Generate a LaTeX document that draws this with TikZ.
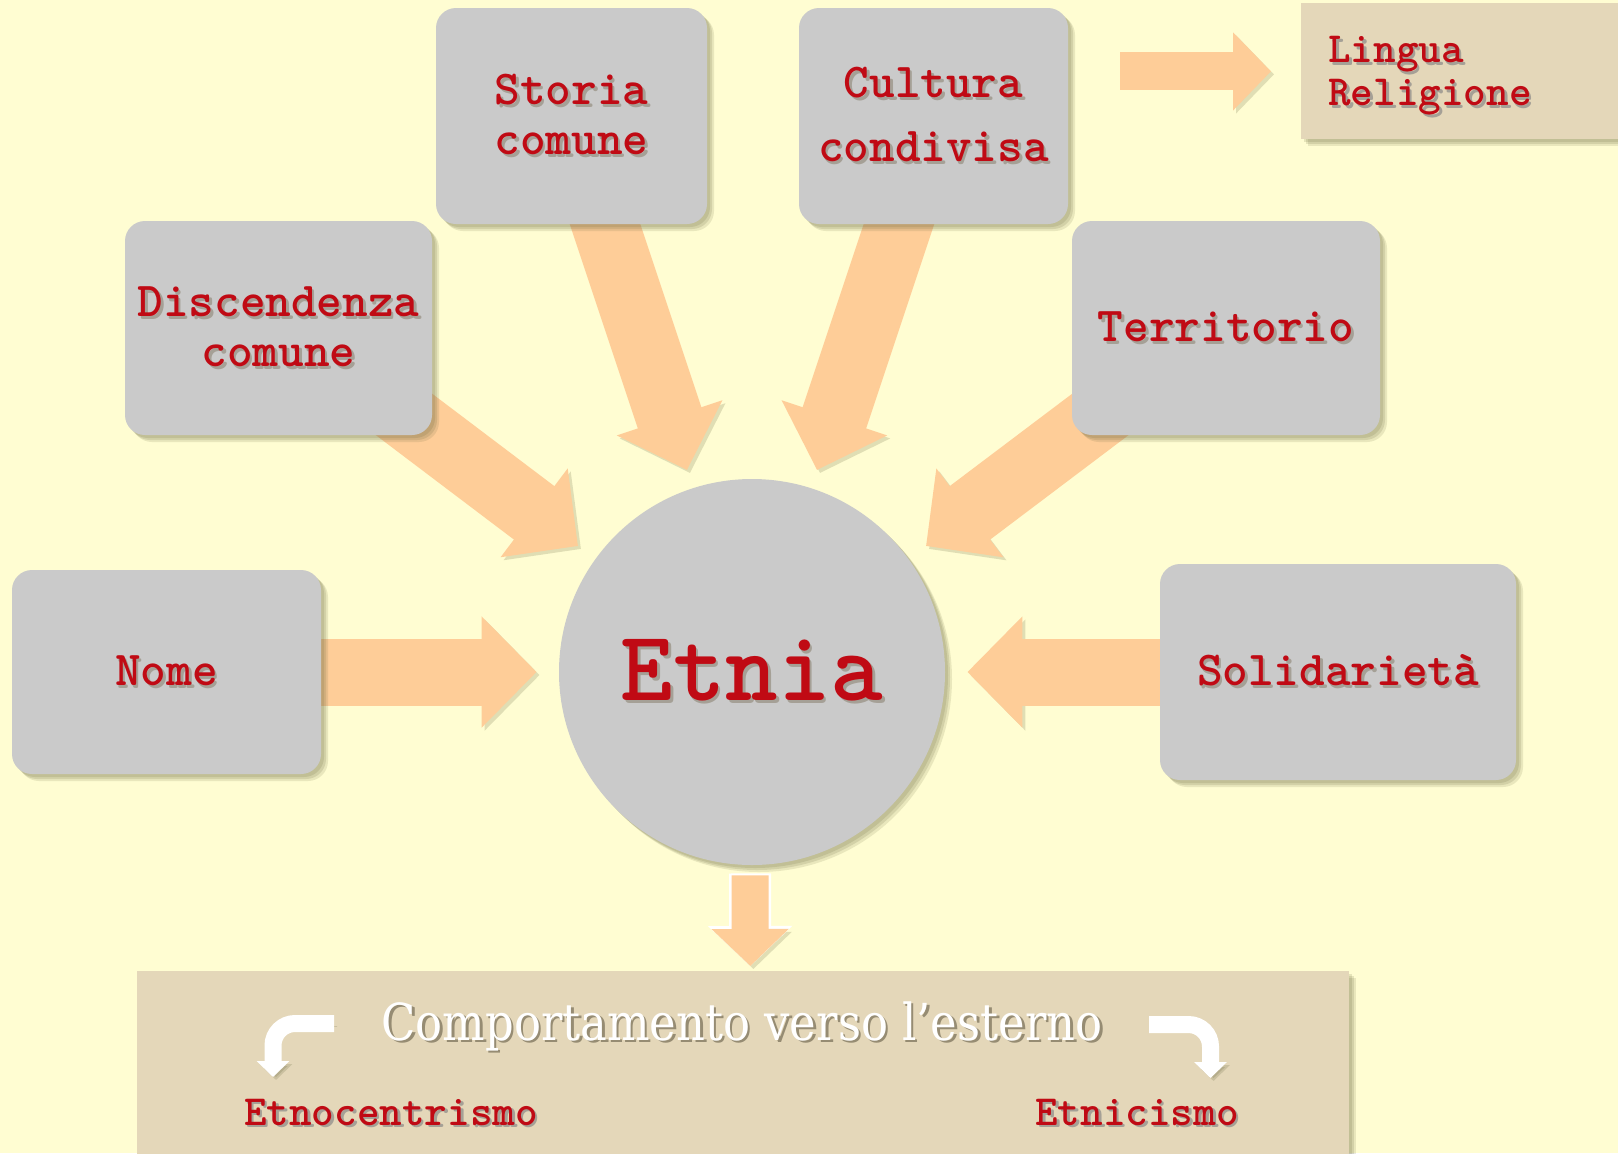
\documentclass[tikz,border=0pt]{standalone}
\usepackage{fontspec}
\setmainfont{Liberation Serif}
\newfontfamily\titlefont{DejaVu Serif}[FakeStretch=0.88]
\usepackage{tikz}
\usetikzlibrary{calc,shadows}
\usetikzlibrary{arrows.meta}

\definecolor{bgyellow}{RGB}{255,253,210}
\definecolor{boxgray}{RGB}{202,202,202}
\definecolor{arroworange}{RGB}{254,205,152}
\definecolor{textred}{RGB}{192,10,20}
\definecolor{beige}{RGB}{228,215,185}
\definecolor{shadecol}{RGB}{100,100,60}
\definecolor{txtshade}{RGB}{165,160,150}
\definecolor{titleshade}{RGB}{150,140,115}

\pgfdeclarelayer{bglayer}
\pgfdeclarelayer{arrowlayer}
\pgfsetlayers{bglayer,arrowlayer,main}

\newcommand{\sh}[2][txtshade]{\makebox[0pt][l]{\kern1.3pt\raisebox{-1.3pt}{\textcolor{#1}{#2}}}#2}
\newcommand{\boxfont}{\ttfamily\bfseries\fontsize{24.4}{25}\selectfont}
\newcommand{\labfont}{\ttfamily\bfseries\fontsize{21.5}{21.5}\selectfont}

\begin{document}
\begin{tikzpicture}[
	x=0.5pt, y=-0.5pt,
	shade/.style={
		drop shadow={shadow xshift=1.5pt, shadow yshift=-1.5pt, fill=shadecol, opacity=.16},
		drop shadow={shadow xshift=2.5pt, shadow yshift=-2.5pt, fill=shadecol, opacity=.16},
		drop shadow={shadow xshift=3.5pt, shadow yshift=-3.5pt, fill=shadecol, opacity=.14},
	},
	rect/.style={
		shade,
		rectangle,
		rounded corners=10pt,
		fill=boxgray,
		inner sep=2pt,
		align=center,
		text=textred,
		font=\boxfont,
	},
	beigerect/.style={
		shade,
		rectangle,
		fill=beige,
		inner sep=0pt,
	},
	arrowshade/.style={
		preaction={draw=shadecol, opacity=.2, transform canvas={shift={(1.5pt,-1.5pt)}}},
	},
	barrow/.style={
		arrowshade,
		draw=arroworange,
		line width=33.5pt,
		-{Triangle[length=27.5pt, width=54pt]},
	},
	sarrow/.style={
		arrowshade,
		draw=arroworange,
		line width=19pt,
		-{Triangle[length=19pt, width=38pt]},
	},
	warrow/.style={
		arrowshade,
		draw=white,
		line width=8.5pt,
		rounded corners=11pt,
		-{Triangle[length=8pt, width=16pt]},
	},
]
\useasboundingbox (0,0) rectangle (1618,1153);
\begin{pgfonlayer}{bglayer}
\fill[bgyellow] (0,0) rectangle (1618,1153);
\end{pgfonlayer}

% centre
\node [shade, circle, fill=boxgray, minimum size=193pt, inner sep=0pt, text=textred,
	font=\ttfamily\bfseries\fontsize{50}{50}\selectfont] (etnia) at (752,672) {\sh{Etnia}};

% boxes round the centre
\node [rect, minimum width=135.5pt, minimum height=108pt] (storia) at (571.5,116) {\sh{Storia}\\\sh{comune}};
\node [rect, minimum width=134.5pt, minimum height=108pt] (cultura) at (933.5,116) {\sh{Cultura}\\[7pt]\sh{condivisa}};
\node [rect, minimum width=153.5pt, minimum height=107pt] (discend) at (278.5,328) {\sh{Discendenza}\\\sh{comune}};
\node [rect, minimum width=154pt, minimum height=107pt] (territ) at (1226,328) {\sh{Territorio}};
\node [rect, minimum width=154.5pt, minimum height=102pt] (nome) at (166.5,672) {\sh{Nome}};
\node [rect, minimum width=178pt, minimum height=108pt] (solid) at (1338,672) {\sh{Solidarietà}};

% top right
\node [beigerect, anchor=north west, minimum width=170pt, minimum height=68pt, text width=143pt,
	inner xsep=13.5pt, align=left, text=textred, font=\labfont] (lingua) at (1301,3)
	{\rule{0pt}{19pt}\sh{Lingua}\\\sh{Religione}};

% bottom
\node [beigerect, anchor=north west, minimum width=606pt, minimum height=100pt] (esterno) at (137,971) {};
\node [anchor=base, text=white, font=\titlefont\fontsize{25.5}{25.5}\selectfont] (comport) at (742,1040) {\sh[titleshade]{Comportamento verso l’esterno}};
\node [anchor=base, text=textred, font=\labfont] (etnocentr) at (391,1125) {\sh{Etnocentrismo}};
\node [anchor=base, text=textred, font=\labfont] (etnicism) at (1137,1125) {\sh{Etnicismo}};

\coordinate (linguafrom) at ($(lingua.west)+(-181,0)$);
\coordinate (leftfrom) at (334,1023.5);
\coordinate (leftto) at (273,1077);
\coordinate (rightfrom) at (1149,1024.5);
\coordinate (rightto) at (1210.5,1078);

\begin{pgfonlayer}{arrowlayer}
\draw [barrow] ($(storia.center)+(18.5,63)$) -- ($(etnia.center)+(-65,-202)$);
\draw [barrow] ($(cultura.center)+(-19.5,63)$) -- ($(etnia.center)+(65,-202)$);
\draw [barrow] ($(discend.center)+(57.5,35)$) -- ($(etnia.center)+(-174,-126)$);
\draw [barrow] ($(territ.center)+(-57.5,35)$) -- ($(etnia.center)+(174,-126)$);
\draw [barrow] ($(nome.east)+(-10,0)$) -- ($(etnia.west)+(-22,0)$);
\draw [barrow] ($(solid.west)+(10,0)$) -- ($(etnia.east)+(22,0)$);
\draw [sarrow] (linguafrom) -- ($(lingua.west)+(-30,0)$);
\draw [sarrow, line width=18.5pt, -{Triangle[length=18.5pt, width=37.5pt]},
	preaction={draw=white, line width=21pt, -{Triangle[length=20pt, width=41pt]}, shorten <=-1pt}]
	($(etnia.south)+(-2,10)$) -- ($(esterno.north)+(7,-5)$);
\end{pgfonlayer}

\draw [warrow] (leftfrom) -| (leftto);
\draw [warrow] (rightfrom) -| (rightto);
\end{tikzpicture}
\end{document}
